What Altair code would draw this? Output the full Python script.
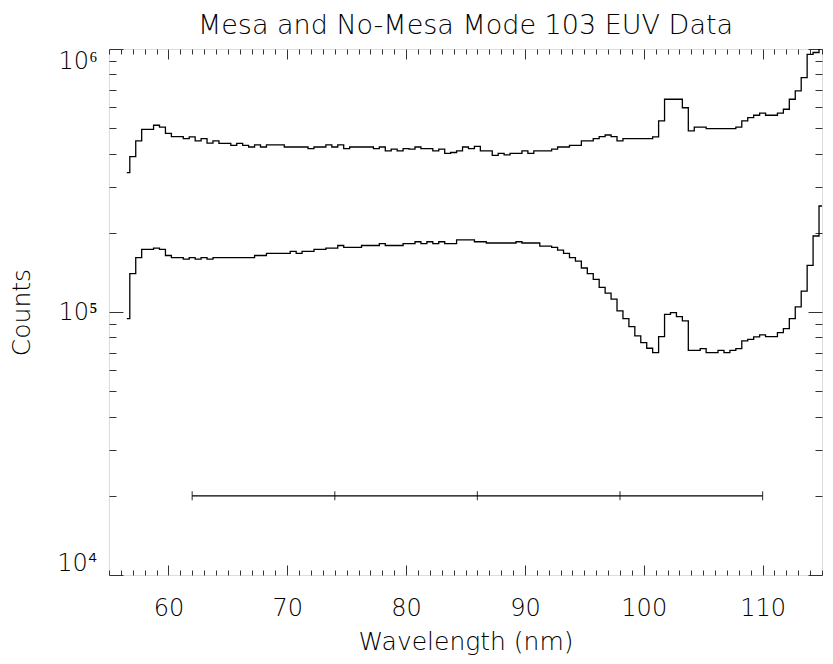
import altair as alt
import pandas as pd

# ---------------- data ----------------
title_text = "Mesa and No-Mesa Mode 103 EUV Data"

wavelength = [
    56.5, 57.0, 57.5, 58.0, 58.5, 59.0, 59.5, 60.0, 60.5, 61.0,
    61.5, 62.0, 62.5, 63.0, 63.5, 64.0, 64.5, 65.0, 65.5, 66.0,
    66.5, 67.0, 67.5, 68.0, 68.5, 69.0, 69.5, 70.0, 70.5, 71.0,
    71.5, 72.0, 72.5, 73.0, 73.5, 74.0, 74.5, 75.0, 75.5, 76.0,
    76.5, 77.0, 77.5, 78.0, 78.5, 79.0, 79.5, 80.0, 80.5, 81.0,
    81.5, 82.0, 82.5, 83.0, 83.5, 84.0, 84.5, 85.0, 85.5, 86.0,
    86.5, 87.0, 87.5, 88.0, 88.5, 89.0, 89.5, 90.0, 90.5, 91.0,
    91.5, 92.0, 92.5, 93.0, 93.5, 94.0, 94.5, 95.0, 95.5, 96.0,
    96.5, 97.0, 97.5, 98.0, 98.5, 99.0, 99.5, 100.0, 100.5, 101.0,
    101.5, 102.0, 102.5, 103.0, 103.5, 104.0, 104.5, 105.0, 105.5, 106.0,
    106.5, 107.0, 107.5, 108.0, 108.5, 109.0, 109.5, 110.0, 110.5, 111.0,
    111.5, 112.0, 112.5, 113.0, 113.5, 114.0, 114.5, 115.0,
]

counts_upper = [
    339000, 390000, 447000, 495000, 495000, 513000, 505000, 478000, 464000, 464000,
    456000, 463000, 447000, 456000, 439000, 447000, 438000, 438000, 430000, 438000,
    430000, 424000, 432000, 424000, 432000, 432000, 432000, 424000, 424000, 424000,
    424000, 418000, 424000, 424000, 432000, 424000, 432000, 418000, 424000, 424000,
    424000, 424000, 418000, 424000, 410000, 416000, 410000, 418000, 416000, 424000,
    418000, 418000, 410000, 416000, 401000, 404000, 410000, 424000, 418000, 426000,
    410000, 410000, 394000, 401000, 396000, 401000, 401000, 410000, 401000, 410000,
    410000, 410000, 416000, 424000, 424000, 430000, 430000, 447000, 447000, 456000,
    464000, 471000, 464000, 447000, 456000, 456000, 456000, 456000, 456000, 463000,
    533000, 644000, 644000, 644000, 598000, 488000, 505000, 505000, 498000, 498000,
    498000, 498000, 498000, 505000, 533000, 548000, 560000, 570000, 560000, 560000,
    570000, 590000, 644000, 693000, 779000, 954000, 970000, 1300000,
]

counts_lower = [
    94400, 140000, 161000, 173000, 173000, 175000, 173000, 164000, 161000, 161000,
    159000, 161000, 159000, 161000, 159000, 161000, 161000, 161000, 161000, 161000,
    161000, 161000, 164000, 164000, 167000, 167000, 167000, 167000, 170000, 167000,
    170000, 170000, 173000, 173000, 175000, 175000, 179000, 176000, 176000, 176000,
    179000, 179000, 179000, 182000, 179000, 179000, 179000, 182000, 182000, 185000,
    182000, 185000, 182000, 185000, 182000, 182000, 188000, 188000, 188000, 185000,
    185000, 183000, 183000, 183000, 183000, 183000, 185000, 183000, 183000, 183000,
    178000, 178000, 176000, 172000, 167000, 161000, 156000, 147000, 140000, 133000,
    124000, 118000, 112000, 101000, 94400, 88000, 81100, 76500, 72800, 70100,
    80600, 98000, 99400, 96000, 92500, 71500, 71500, 72600, 70100, 70100,
    71500, 70100, 71500, 72600, 77600, 78700, 80400, 81800, 80600, 80600,
    83500, 86400, 94400, 104500, 120000, 150500, 194500, 253000,
]

errbar_x = [62, 74, 86, 98, 110]
errbar_level = 20000

x_label_values = [60, 70, 80, 90, 100, 110]
x_tick_values = list(range(55, 116))
y_label_values = [10000, 100000, 1000000]
y_tick_values = [10000, 20000, 30000, 40000, 50000, 60000, 70000, 80000, 90000,
                 100000, 200000, 300000, 400000, 500000, 600000, 700000, 800000, 900000,
                 1000000]

# ---------------- frames ----------------
df_upper = pd.DataFrame({"wl": wavelength, "counts": counts_upper})
df_lower = pd.DataFrame({"wl": wavelength, "counts": counts_lower})
df_bar = pd.DataFrame({"x0": [errbar_x[0]], "x1": [errbar_x[-1]], "y": [errbar_level]})
df_bar_ticks = pd.DataFrame({"x": errbar_x, "y": [errbar_level] * len(errbar_x)})
df_title = pd.DataFrame({"t": [title_text]})

W, H = 713, 526
FONT = "DejaVu Sans"
FW = 200
AXC = "#333333"

xs = alt.Scale(domain=[55, 115], nice=False, zero=False)
ys = alt.Scale(type="log", domain=[10000, 1000000], nice=False)

x_major_cond = {"condition": {"test": "datum.value % 10 === 0", "value": 10}, "value": 5}
y_major_cond = {"condition": {"test": "datum.value === 10000 || datum.value === 100000 || datum.value === 1000000",
                              "value": 14}, "value": 7}

# axis carrying the x labels and title
ax_x_labels = alt.Axis(orient="bottom", values=x_label_values, ticks=False, domain=False, grid=False,
                       labelFont=FONT, labelFontSize=24, labelFontWeight=FW, labelColor="black",
                       labelPadding=21, format="d",
                       title="Wavelength (nm)", titleFont=FONT, titleFontSize=25, titleFontWeight=FW,
                       titleColor="black", titleBaseline="alphabetic", titleY=74)
# axis carrying the y labels and title
ax_y_labels = alt.Axis(orient="left", values=y_label_values, ticks=False, domain=False, grid=False,
                       labelExpr="datum.value === 10000 ? '10\u2074' : datum.value === 100000 ? '10\u2075' : '10\u2076'",
                       labelFont=FONT, labelFontSize=24, labelFontWeight=FW, labelColor="black",
                       labelPadding=12, labelFlush=True, labelFlushOffset=0,
                       title="Counts", titleFont=FONT, titleFontSize=25, titleFontWeight=FW,
                       titleColor="black", titleBaseline="alphabetic", titleX=-80)
# inward ticks: bottom edge (top-oriented axis moved down)
ax_x_bottom_ticks = alt.Axis(orient="top", offset=-H, values=x_tick_values, labels=False, domain=False,
                             grid=False, tickSize=x_major_cond, tickColor=AXC, tickWidth=1)
# inward ticks: top edge (bottom-oriented axis moved up)
ax_x_top_ticks = alt.Axis(orient="bottom", offset=-H, values=x_tick_values, labels=False, domain=False,
                          grid=False, tickSize=x_major_cond, tickColor=AXC, tickWidth=1)
# inward ticks: left edge
ax_y_left_ticks = alt.Axis(orient="right", offset=-W, values=y_tick_values, labels=False, domain=False,
                           grid=False, tickSize=y_major_cond, tickColor=AXC, tickWidth=1)
# inward ticks: right edge
ax_y_right_ticks = alt.Axis(orient="left", offset=-W, values=y_tick_values, labels=False, domain=False,
                            grid=False, tickSize=y_major_cond, tickColor=AXC, tickWidth=1)

upper = alt.Chart(df_upper).mark_line(interpolate="step", color="black", strokeWidth=1.3, clip=True).encode(
    x=alt.X("wl:Q", scale=xs, axis=ax_x_labels),
    y=alt.Y("counts:Q", scale=ys, axis=ax_y_labels),
)

lower = alt.Chart(df_lower).mark_line(interpolate="step", color="black", strokeWidth=1.3, clip=True).encode(
    x=alt.X("wl:Q", scale=xs, axis=ax_x_bottom_ticks, title=None),
    y=alt.Y("counts:Q", scale=ys, axis=ax_y_left_ticks, title=None),
)

bar = alt.Chart(df_bar).mark_rule(color="black", strokeWidth=1.3).encode(
    x=alt.X("x0:Q", scale=xs, axis=ax_x_top_ticks, title=None),
    x2="x1:Q",
    y=alt.Y("y:Q", scale=ys, axis=ax_y_right_ticks, title=None),
)

bar_ticks = alt.Chart(df_bar_ticks).mark_tick(orient="vertical", size=9, thickness=1.2, color="black").encode(
    x=alt.X("x:Q", scale=xs, axis=None),
    y=alt.Y("y:Q", scale=ys, axis=None),
)

# chart title drawn as a text mark centred over the plot area
title_mark = alt.Chart(df_title).mark_text(
    font=FONT, fontSize=27, fontWeight=FW, color="black", align="center", baseline="alphabetic"
).encode(
    text="t:N",
    x=alt.value(W / 2),
    y=alt.value(-15),
)

chart = alt.layer(upper, lower, bar, bar_ticks, title_mark).resolve_axis(
    x="independent", y="independent"
).properties(
    width=W,
    height=H,
    padding={"left": 101, "top": 41, "right": 3, "bottom": 80},
    autosize=alt.AutoSizeParams(type="none"),
).configure_view(
    stroke=AXC, strokeWidth=1
).configure(font=FONT, background="white")

chart.save("out.html", embed_options={"renderer": "svg", "actions": False})
